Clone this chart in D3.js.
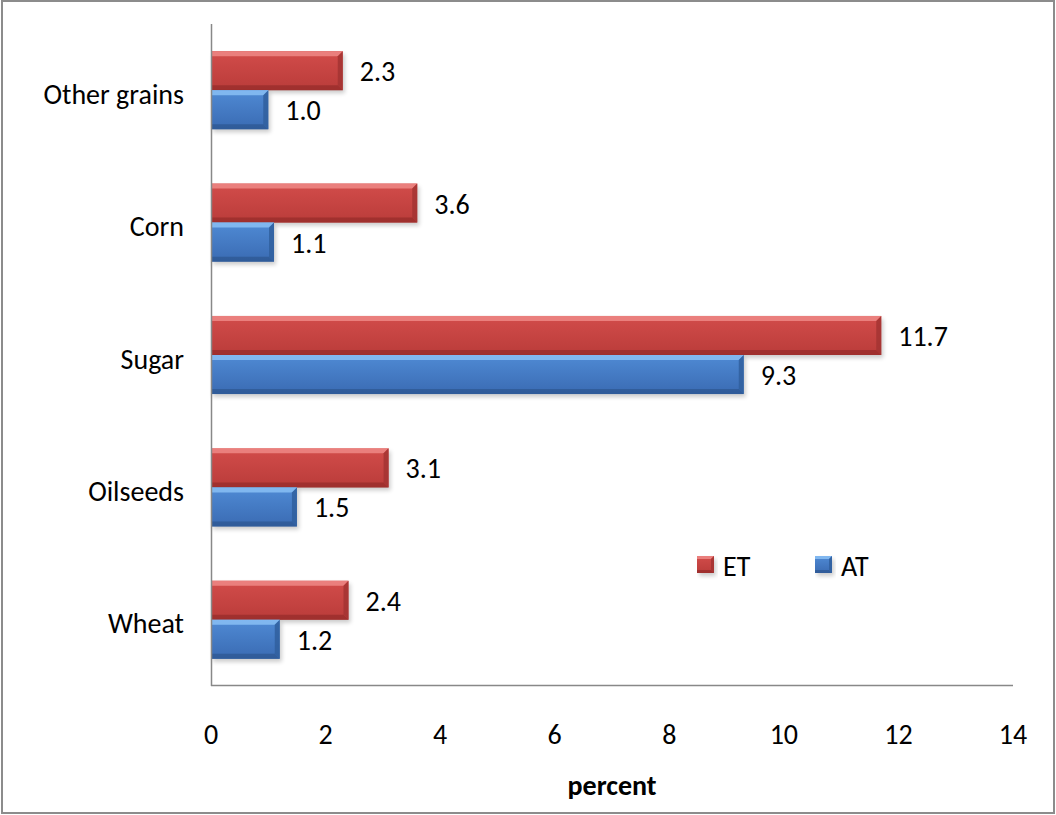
<!DOCTYPE html>
<html>
<head>
<meta charset="utf-8">
<script src="https://cdn.jsdelivr.net/npm/d3@7"></script>
<style>
  html, body { margin: 0; padding: 0; background: #fff; }
  svg { display: block; }
  text { font-family: Carlito, Calibri, Lato, "Open Sans", sans-serif; fill: #000; }
</style>
</head>
<body>
<svg id="chart" width="1056" height="815"></svg>
<script>
// Categories listed top to bottom
const categories = ["Other grains", "Corn", "Sugar", "Oilseeds", "Wheat"];
const seriesNames = ["ET", "AT"];
const etValues = [2.3, 3.6, 11.7, 3.1, 2.4];
const atValues = [1.0, 1.1, 9.3, 1.5, 1.2];
const xTicks = [0, 2, 4, 6, 8, 10, 12, 14];
const xTitle = "percent";

const W = 1056, H = 815;
const plot = { left: 211, right: 1013, top: 24, bottom: 686 };
const FS = 28;

const palette = {
  ET: { face0: "#d24c4a", face1: "#ba3c3a", top: "#ef8886", bottom: "#8e2826", side: "#a33432" },
  AT: { face0: "#4f8ad4", face1: "#3a6bb3", top: "#89c0f5", bottom: "#2a5189", side: "#305f9e" }
};

const svg = d3.select("#chart");
const defs = svg.append("defs");

// Vertical face gradients for each series
seriesNames.forEach(s => {
  const g = defs.append("linearGradient").attr("id", "face-" + s)
    .attr("x1", 0).attr("y1", 0).attr("x2", 0).attr("y2", 1);
  g.append("stop").attr("offset", "0%").attr("stop-color", palette[s].face0);
  g.append("stop").attr("offset", "100%").attr("stop-color", palette[s].face1);
});
const shadow = defs.append("filter").attr("id", "shadow")
  .attr("x", "-10%").attr("y", "-20%").attr("width", "120%").attr("height", "160%");
shadow.append("feGaussianBlur").attr("stdDeviation", 2);

// Outer frame
svg.append("rect")
  .attr("x", 2).attr("y", 1).attr("width", W - 4).attr("height", H - 3)
  .attr("fill", "none").attr("stroke", "#8c8c8c").attr("stroke-width", 2);

const x = d3.scaleLinear().domain([0, 14]).range([plot.left, plot.right]);
const y = d3.scaleBand().domain(categories).range([plot.top, plot.bottom])
  .paddingInner(0.41).paddingOuter(0.205);
const ySeries = d3.scaleBand().domain(seriesNames).range([0, y.bandwidth()]);

const rows = categories.map((c, i) => ({ cat: c, values: [
  { s: "ET", v: etValues[i] }, { s: "AT", v: atValues[i] }
]}));

// Draws a bevelled bar (face, lit top edge, dark bottom and end edges)
function bevelBar(g, x0, y0, w, h, s, b) {
  const x1 = x0 + w, y1 = y0 + h;
  const c = palette[s];
  g.append("rect").attr("x", x0 + 2).attr("y", y0 + 3).attr("width", w).attr("height", h)
    .attr("fill", "#000").attr("opacity", 0.2).attr("filter", "url(#shadow)");
  g.append("rect").attr("x", x0).attr("y", y0).attr("width", w).attr("height", h)
    .attr("fill", `url(#face-${s})`);
  const poly = pts => pts.map(p => p.join(",")).join(" ");
  g.append("polygon").attr("points", poly([[x0, y0], [x1, y0], [x1 - b, y0 + b], [x0, y0 + b]]))
    .attr("fill", c.top).attr("opacity", 0.85);
  g.append("polygon").attr("points", poly([[x0, y1], [x1, y1], [x1 - b, y1 - b], [x0, y1 - b]]))
    .attr("fill", c.bottom).attr("opacity", 0.6);
  g.append("polygon").attr("points", poly([[x1, y0], [x1, y1], [x1 - b, y1 - b], [x1 - b, y0 + b]]))
    .attr("fill", c.side).attr("opacity", 0.85);
}

const barsG = svg.append("g");
rows.forEach(r => {
  r.values.forEach(d => {
    const y0 = y(r.cat) + ySeries(d.s);
    const h = ySeries.bandwidth();
    bevelBar(barsG, x(0), y0, x(d.v) - x(0), h, d.s, 5);
    barsG.append("text")
      .attr("x", x(d.v) + 17).attr("y", y0 + h / 2 + 1)
      .attr("dominant-baseline", "central")
      .attr("font-size", FS)
      .text(d.v.toFixed(1));
  });
});

// Axes lines (no tick marks)
const axisG = svg.append("g");
axisG.append("line").attr("x1", plot.left + 0.5).attr("x2", plot.left + 0.5)
  .attr("y1", plot.top).attr("y2", plot.bottom).attr("stroke", "#888").attr("stroke-width", 1.5);
axisG.append("line").attr("x1", plot.left).attr("x2", plot.right)
  .attr("y1", plot.bottom - 0.5).attr("y2", plot.bottom - 0.5).attr("stroke", "#888").attr("stroke-width", 1.5);

// X tick labels
axisG.selectAll("text.xt").data(xTicks).join("text").attr("class", "xt")
  .attr("x", d => x(d)).attr("y", 734)
  .attr("text-anchor", "middle").attr("dominant-baseline", "central")
  .attr("font-size", FS).text(d => d);

// Category labels
axisG.selectAll("text.yt").data(categories).join("text").attr("class", "yt")
  .attr("x", plot.left - 27).attr("y", d => y(d) + y.bandwidth() / 2 + 4)
  .attr("text-anchor", "end").attr("dominant-baseline", "central")
  .attr("font-size", FS).text(d => d);

// Axis title
svg.append("text").attr("x", (plot.left + plot.right) / 2).attr("y", 785)
  .attr("text-anchor", "middle").attr("dominant-baseline", "central")
  .attr("font-size", FS).attr("font-weight", "bold").text(xTitle);

// Legend
const legend = svg.append("g");
const legendX = [697, 815];
seriesNames.forEach((s, i) => {
  const lg = legend.append("g");
  bevelBar(lg, legendX[i], 556, 17, 17, s, 3);
  lg.append("text").attr("x", legendX[i] + 26).attr("y", 566)
    .attr("dominant-baseline", "central").attr("font-size", FS).text(s);
});
</script>
</body>
</html>
